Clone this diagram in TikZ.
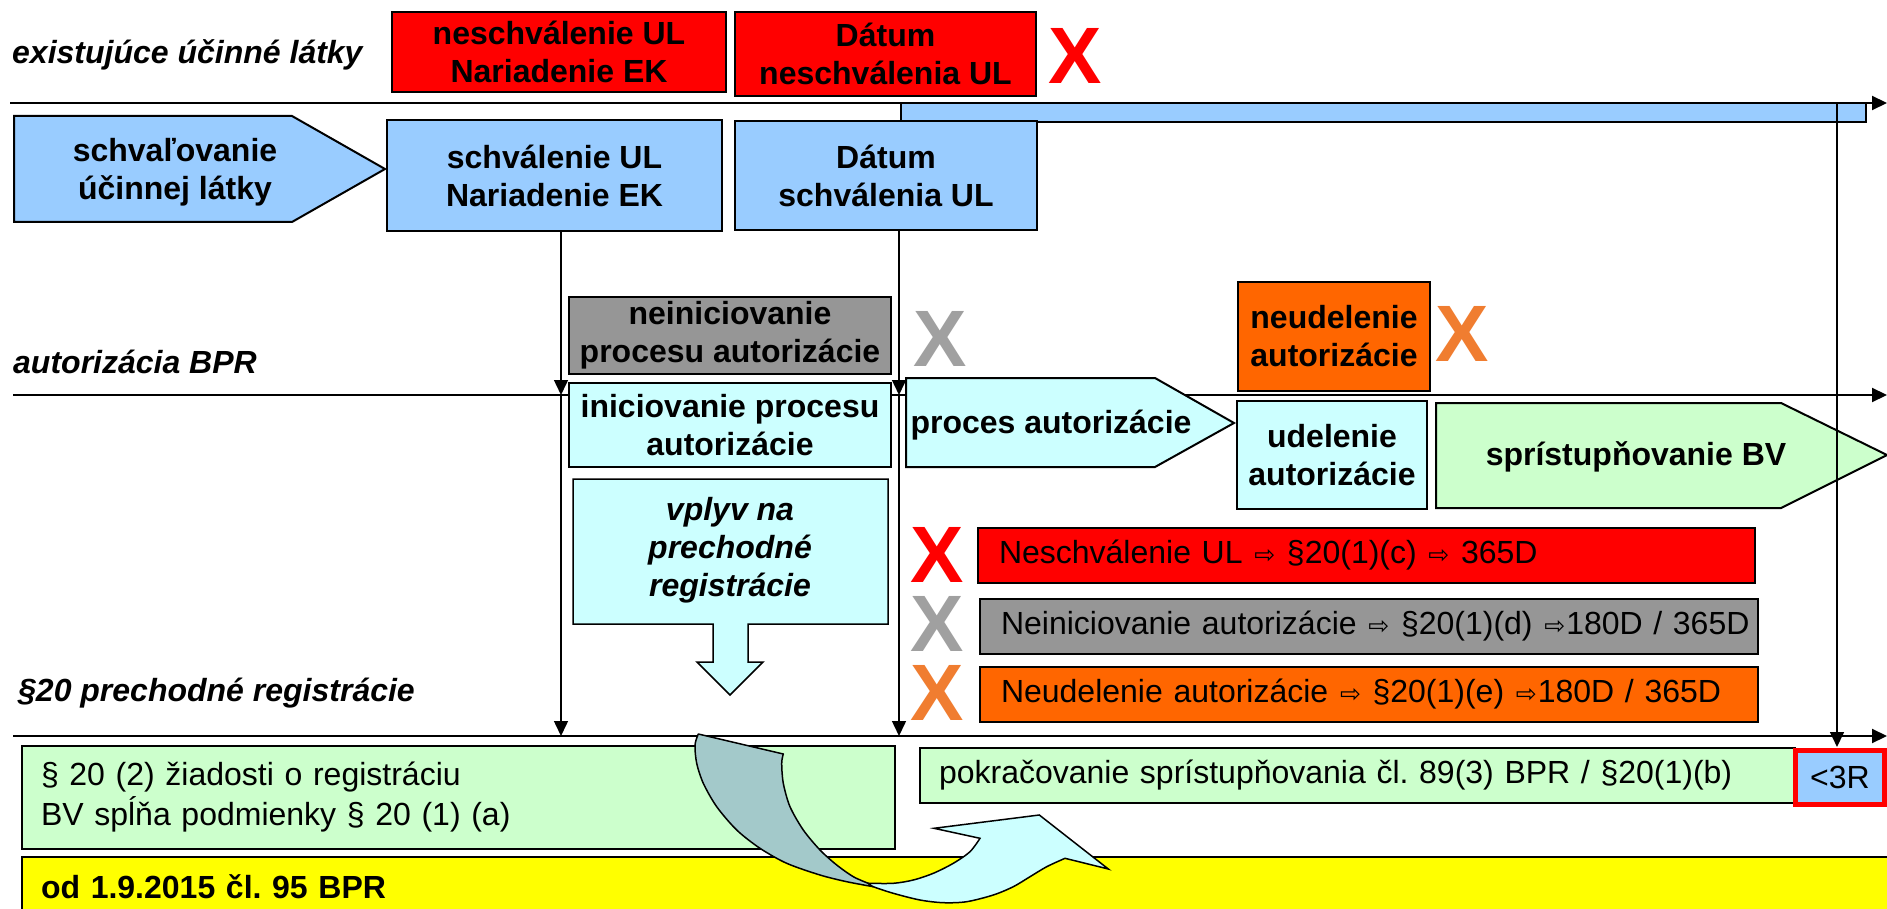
\documentclass[tikz,border=0pt]{standalone}
\usepackage{fontspec}
\setmainfont{Liberation Sans}
\newfontfamily\dejavu{DejaVu Sans}
\usetikzlibrary{arrows.meta}
\definecolor{cRed}{HTML}{FF0000}
\definecolor{cBlue}{HTML}{99CCFF}
\definecolor{cCyan}{HTML}{CCFFFF}
\definecolor{cGreen}{HTML}{CCFFCC}
\definecolor{cGray}{HTML}{969696}
\definecolor{cXGray}{HTML}{A0A0A0}
\definecolor{cOrange}{HTML}{FF6600}
\definecolor{cXOrange}{HTML}{F07D30}
\definecolor{cYellow}{HTML}{FFFF00}
\definecolor{cTeal}{HTML}{A3C9CA}
\newcommand{\wharr}{{\dejavu\fontsize{25}{25}\selectfont\kern1pt ⇨\kern1pt}}
\begin{document}
\frenchspacing
\begin{tikzpicture}[x=1pt,y=-1pt,
  box/.style={draw=black, line width=2pt, inner sep=0pt, align=center,
    font=\bfseries\fontsize{32}{38}\selectfont},
  bar/.style={draw=black, line width=2pt, inner sep=0pt, align=left,
    font=\fontsize{32}{40}\selectfont},
  lane/.style={anchor=west, inner sep=0pt, font=\bfseries\itshape\fontsize{32}{38}\selectfont},
  cross/.style={inner sep=0pt, font=\bfseries\fontsize{80}{80}\selectfont},
  txt/.style={inner sep=0pt, align=center, font=\bfseries\fontsize{32}{38}\selectfont},
  shp/.style={draw=black, line width=2pt, line join=miter},
  tline/.style={line width=2pt, -{Triangle[length=15pt,width=14pt]}},
  conn/.style={line width=1.5pt, -{Triangle[length=15pt,width=14pt]}}]
\useasboundingbox (0,0) rectangle (1887,909);
\fill[white] (0,0) rectangle (1887,909);

% lane labels
\node[lane] (lab1) at (12,55) {existujúce účinné látky};
\node[lane] (lab2) at (13,362) {autorizácia BPR};
\node[lane] (lab3) at (18,693) {§20 prechodné registrácie};

% timelines
\coordinate (l1s) at (10,103);  \coordinate (l1e) at (1887,103);
\coordinate (l2s) at (13,395);  \coordinate (l2e) at (1887,395);
\coordinate (l3s) at (13,736);  \coordinate (l3e) at (1887,736);
\draw[tline] (l1s) -- (l1e);
\draw[tline] (l2s) -- (l2e);
\draw[tline] (l3s) -- (l3e);

% top lane
\node[box, fill=cRed, minimum width=334pt, minimum height=80pt] (r1) at (559,52) {neschválenie UL\\Nariadenie EK};
\node[box, fill=cRed, minimum width=301pt, minimum height=84pt] (r2) at (885.5,54) {Dátum\\neschválenia UL};
\node[cross, text=cRed] (xr1) at (1075,56) {X};
\node[draw=black, line width=2pt, fill=cBlue, inner sep=0pt, minimum width=965pt, minimum height=19pt] (blu) at (1383.5,112.5) {};

% second row
\draw[shp, fill=cBlue] (14,116) -- (292,116) -- (385,169) -- (292,222) -- (14,222) -- cycle;
\node[txt] (p1) at (175,172) {schvaľovanie\\účinnej látky};
\node[box, fill=cBlue, minimum width=335pt, minimum height=111pt] (b1) at (554.5,175.5) {schválenie UL\\Nariadenie EK};
\node[box, fill=cBlue, minimum width=302pt, minimum height=109pt] (b2) at (886,175.5) {Dátum\\schválenia UL};

% authorization lane
\node[box, fill=cGray, minimum width=322pt, minimum height=77pt] (g1) at (730,335.5) {neiniciovanie\\procesu autorizácie};
\node[cross, text=cXGray] (xg1) at (940,339) {X};
\node[box, fill=cCyan, minimum width=322pt, minimum height=84pt] (c1) at (730,425) {iniciovanie procesu\\autorizácie};
\draw[shp, fill=cCyan, line width=1.5pt] (573,479) -- (888,479) -- (888,624) -- (748,624) -- (748,662) -- (763,662)
  -- (730,695) -- (697,662) -- (713,662) -- (713,624) -- (573,624) -- cycle;
\node[txt, font=\bfseries\itshape\fontsize{32}{38}\selectfont] (c2) at (730,550) {vplyv na\\prechodné\\registrácie};

\draw[shp, fill=cCyan] (906,378) -- (1155,378) -- (1234,423) -- (1155,467) -- (906,467) -- cycle;
\node[txt] (p2) at (1051,425) {proces autorizácie};
\node[box, fill=cOrange, minimum width=192pt, minimum height=109pt] (o1) at (1334,336.5) {neudelenie\\autorizácie};
\node[cross, text=cXOrange] (xo1) at (1462,334) {X};
\node[box, fill=cCyan, minimum width=190pt, minimum height=108pt] (c3) at (1332,455) {udelenie\\autorizácie};
\draw[shp, fill=cGreen] (1436,403) -- (1781,403) -- (1887,455) -- (1781,508) -- (1436,508) -- cycle;
\node[txt] (p3) at (1636,457) {sprístupňovanie BV};

% consequence bars
\node[cross, text=cRed] (xr2) at (937,555) {X};
\node[cross, text=cXGray] (xg2) at (937,624) {X};
\node[cross, text=cXOrange] (xo2) at (937,693) {X};
\node[bar, fill=cRed, minimum width=777pt, minimum height=55pt, text width=735pt] (br1) at (1366.5,555.5)
  {\mbox{Neschválenie UL \wharr{} §20(1)(c) \wharr{} 365D}};
\node[bar, fill=cGray, minimum width=778pt, minimum height=55pt, text width=736pt] (br2) at (1369,626.5)
  {\mbox{Neiniciovanie autorizácie \wharr{} §20(1)(d) \wharr180D / 365D}};
\node[bar, fill=cOrange, minimum width=778pt, minimum height=55pt, text width=736pt] (br3) at (1369,694.5)
  {\mbox{Neudelenie autorizácie \wharr{} §20(1)(e) \wharr180D / 365D}};

% bottom lane
\node[bar, fill=cYellow, minimum width=1880pt, minimum height=60pt, text width=1842pt, font=\bfseries\fontsize{32}{38}\selectfont] (yel) at (962,887)
  {od 1.9.2015 čl. 95 BPR};
\node[bar, fill=cGreen, minimum width=873pt, minimum height=103pt, text width=835pt] (gr1) at (458.5,797.5)
  {§ 20 (2) žiadosti o registráciu\\BV spĺňa podmienky § 20 (1) (a)};
\node[bar, fill=cGreen, minimum width=875pt, minimum height=55pt, text width=837pt] (gr2) at (1357.5,775.5)
  {\mbox{pokračovanie sprístupňovania čl. 89(3) BPR / §20(1)(b)}};
\node[draw=cRed, line width=5pt, fill=cBlue, inner sep=0pt, minimum width=89pt, minimum height=54pt,
  font=\fontsize{32}{38}\selectfont] (r3) at (1840,777.5) {<3R};

% curved arrow
\draw[line width=1.5pt, fill=cTeal, line join=round]
  (698.3,734) -- (783.3,754)
  -- plot[smooth] coordinates {(783.3,754) (781.7,763.3) (783.3,783.3) (790,806.7) (803.3,830) (820,850) (836.7,865) (853.3,876.7) (868.3,883.3)}
  -- (873.3,886.7)
  -- plot[smooth] coordinates {(873.3,886.7) (846.7,881.7) (820,875) (786.7,863.3) (760,848.3) (736.7,830) (716.7,806.7) (703.3,783.3) (696.7,763.3) (695,745) (698.3,734)}
  -- cycle;
\draw[line width=1.5pt, fill=cCyan, line join=miter]
  (868.3,883.3)
  -- plot[smooth] coordinates {(868.3,883.3) (873.3,886.7) (893.3,893.3) (920,900) (943.3,902.7) (966.7,901.7) (993.3,895) (1013.3,886.7) (1030,876.7) (1046.7,866.7) (1065,858.3)}
  -- (1108.3,869) -- (1039.3,815) -- (934,828.3) -- (980,838.3)
  -- plot[smooth] coordinates {(980,838.3) (970,851.7) (953.3,863.3) (933.3,873.3) (913.3,880) (893.3,883.3) (868.3,883.3)}
  -- cycle;

% vertical connectors
\coordinate (v1a) at (561,395); \coordinate (v1b) at (561,736);
\coordinate (v2a) at (899,395); \coordinate (v2b) at (899,736);
\coordinate (v3a) at (1837,103); \coordinate (v3b) at (1837,747);
\draw[conn] (b1.south -| v1a) -- (v1a);
\draw[conn] (v1a) -- (v1b);
\draw[conn] (b2.south -| v2a) -- (v2a);
\draw[conn] (v2a) -- (v2b);
\draw[conn] (v3a) -- (v3b);
\end{tikzpicture}
\end{document}
